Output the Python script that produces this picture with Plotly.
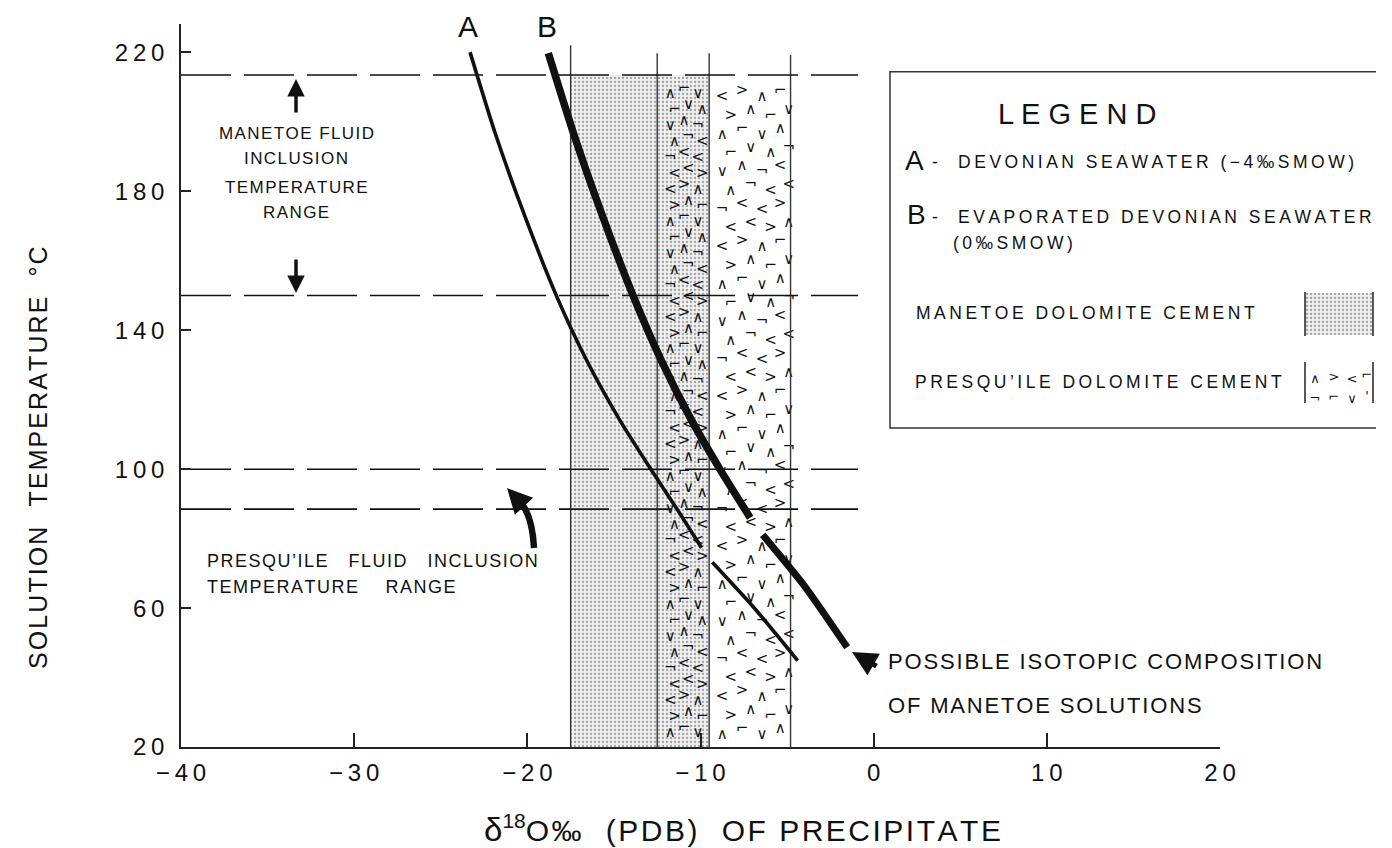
import numpy as np
import plotly.graph_objects as go

# ---- data -------------------------------------------------------------
# Curve A: Devonian seawater (-4 per mil SMOW); two drawn segments
a_upper_x = [-23.31, -21.86, -20.17, -18.30, -16.59, -14.67, -12.82, -11.33, -9.94]
a_upper_t = [220.1, 196.8, 173.2, 149.7, 131.5, 114.2, 99.6, 88.3, 77.4]
a_lower_x = [-9.32, -6.96, -4.39]
a_lower_t = [73.2, 60.4, 44.9]
# Curve B: evaporated Devonian seawater (0 per mil SMOW)
b_upper_x = [-18.79, -17.30, -15.68, -13.87, -12.28, -10.53, -8.83, -7.42, -7.13]
b_upper_t = [219.8, 196.2, 173.2, 149.7, 131.5, 114.2, 99.6, 88.3, 86.0]
b_lower_x = [-6.41, -3.97, -1.53]
b_lower_t = [81.1, 66.2, 48.7]

# cement isotopic ranges (d18O PDB) and top of the bands (deg C)
manetoe_cement = [-17.5, -9.5]
presquile_cement = [-12.5, -4.8]
band_bottom = 20
band_top = 213.5
band_edges = [-17.5, -12.5, -9.5, -4.8]
edge_tops = [222.1, 219.8, 219.8, 219.3]

# fluid inclusion temperature ranges (deg C)
manetoe_fi = [150.0, 213.5]
presquile_fi = [88.5, 100.0]
range_x = [-40, -0.9]

x_ticks = [-40, -30, -20, -10, 0, 10, 20]
y_ticks = [20, 60, 100, 140, 180, 220]
x_range = [-40, 20]
y_range = [20, 228.2]

# ---- page geometry ------------------------------------------------------
W, H = 1392, 848
WE = 1376                      # width actually available to the drawing
ML, MR, MT, MB = 181, 0, 24, 101
PW, PH = WE - ML - MR, H - MT - MB
X_DOMAIN_END = (1220 - ML) / PW

INK = "#111111"
FONT = "Liberation Sans"
HAIR = "\u200a"


def spaced(s, gap=HAIR):
    return gap.join(s)


def num_label(v):
    s = "\u2009".join(str(abs(v)))
    return ("\u2212\u2009" + s) if v < 0 else s


def px_x(p):
    return (p - ML) / PW


def px_y(p):
    return (H - MB - p) / PH


fig = go.Figure()

STIPPLE = dict(shape=".", size=4, solidity=0.26, fgcolor="#555555", bgcolor="#efefef")

# Manetoe dolomite cement: stippled band
mx0, mx1 = manetoe_cement
fig.add_trace(go.Scatter(
    x=[mx0, mx1, mx1, mx0, mx0],
    y=[band_bottom, band_bottom, band_top, band_top, band_bottom],
    mode="lines", fill="toself", line=dict(width=0),
    fillcolor="#efefef", fillpattern=STIPPLE,
    hoverinfo="skip", showlegend=False))

# Presqu'ile dolomite cement: caret texture
GLYPHS = ["\u2227", "<", "\u2228", ">", "\u00ac", "\u2310", "<", "\u2227"]


def caret_field(x_cols, step, shift, y0, y1):
    xs, ys, gs = [], [], []
    rows = np.arange(y0, y1, step)
    for i, yy in enumerate(rows):
        off = shift if i % 2 else 0.0
        for j, xx in enumerate(x_cols):
            xs.append(xx + off)
            ys.append(yy + (j % 2) * step * 0.3)
            gs.append(GLYPHS[(i * 3 + j * 5) % len(GLYPHS)])
    return xs, ys, gs


cx1, cy1, cg1 = caret_field([-11.75, -10.95, -10.15], 4.6, 0.25, 24.0, 211)
cx2, cy2, cg2 = caret_field([-8.75, -7.6, -6.45, -5.4], 5.4, 0.5, 23.5, 211)
fig.add_trace(go.Scatter(
    x=cx1 + cx2, y=cy1 + cy2, text=cg1 + cg2, mode="text",
    textfont=dict(family="DejaVu Sans", size=15, color="#111"),
    hoverinfo="skip", showlegend=False))

# band edge lines
ex, ey = [], []
for xe, te in zip(band_edges, edge_tops):
    ex += [xe, xe, None]
    ey += [band_bottom, te, None]
fig.add_trace(go.Scatter(x=ex, y=ey, mode="lines",
                         line=dict(color="#333", width=1.4),
                         hoverinfo="skip", showlegend=False))

# fluid inclusion temperature limits (dashed)
for t in manetoe_fi + presquile_fi:
    fig.add_trace(go.Scatter(
        x=range_x, y=[t, t], mode="lines",
        line=dict(color=INK, width=1.6, dash="50px,13px"),
        hoverinfo="skip", showlegend=False))

# calculated equilibrium curves
for xs, ts, w in [(a_upper_x, a_upper_t, 3.6), (a_lower_x, a_lower_t, 3.6),
                  (b_upper_x, b_upper_t, 7.5), (b_lower_x, b_lower_t, 7.0)]:
    fig.add_trace(go.Scatter(
        x=xs, y=ts, mode="lines",
        line=dict(color="#111", width=w, shape="spline", smoothing=0.6),
        hoverinfo="skip", showlegend=False))

# ---- pixel-space overlay for legend & labels -----------------------------
fig.add_trace(go.Scatter(
    x=[1305, 1373, 1373, 1305, 1305], y=[293, 293, 335, 335, 293],
    mode="lines", fill="toself", line=dict(width=0), fillcolor="#efefef",
    fillpattern=STIPPLE, xaxis="x2", yaxis="y2", hoverinfo="skip", showlegend=False))
fig.add_trace(go.Scatter(
    x=[1315, 1334, 1352, 1367, 1315, 1334, 1352, 1367],
    y=[380, 378, 380, 376, 399, 398, 400, 397],
    text=["\u2227", ">", "<", "\u2310", "\u00ac", "\u2310", "\u2228", "'"],
    mode="text", textfont=dict(family="DejaVu Sans", size=13, color="#111"),
    xaxis="x2", yaxis="y2", hoverinfo="skip", showlegend=False))

shapes = [
    # legend frame (open on the right)
    dict(type="path", xref="x2", yref="y2",
         path="M %d,71.7 L 890,71.7 L 890,428 L %d,428" % (WE + 20, WE + 20),
         line=dict(color="#333", width=1.5)),
    dict(type="line", xref="x2", yref="y2", x0=1305, x1=1305, y0=292, y1=336, line=dict(color="#222", width=1.5)),
    dict(type="line", xref="x2", yref="y2", x0=1373, x1=1373, y0=292, y1=336, line=dict(color="#222", width=1.5)),
    dict(type="line", xref="x2", yref="y2", x0=1305, x1=1305, y0=362, y1=403, line=dict(color="#222", width=1.5)),
    dict(type="line", xref="x2", yref="y2", x0=1373, x1=1373, y0=362, y1=403, line=dict(color="#222", width=1.5)),
    # curved shaft of Presqu'ile pointer
    dict(type="path", xref="x2", yref="y2",
         path="M 534,548 Q 532,512 518,500",
         line=dict(color="#111", width=6.5)),
]

anns = []


def txt(x, y, s, size, xanchor="left", yanchor="middle", angle=0):
    anns.append(dict(x=px_x(x), y=px_y(y), xref="paper", yref="paper", text=s,
                     showarrow=False, xanchor=xanchor, yanchor=yanchor, textangle=angle,
                     font=dict(family=FONT, size=size, color=INK)))


def arrow(x, y, ax, ay, width):
    anns.append(dict(x=x, y=y, xref="x2", yref="y2", ax=ax, ay=ay,
                     axref="x2", ayref="y2", text="", showarrow=True,
                     arrowhead=2, arrowsize=1.0, arrowwidth=width, arrowcolor="#111"))


# curve labels
txt(468, 27, "A", 30, "center")
txt(547, 27, "B", 30, "center")

# Manetoe fluid inclusion note
for s, yy in [("MANETOE FLUID", 133), ("INCLUSION", 158), ("TEMPERATURE", 188), ("RANGE", 213)]:
    txt(296, yy, spaced(s), 17, "center")
arrow(296, 79, 296, 114, 3.5)
arrow(296, 293, 296, 258, 3.5)

# Presqu'ile fluid inclusion note
txt(205, 561, spaced("PRESQU\u2019ILE   FLUID   INCLUSION"), 18)
txt(205, 587, spaced("TEMPERATURE    RANGE"), 18)
arrow(507, 488, 520, 502, 5)

# isotopic composition note
txt(886, 661, spaced("POSSIBLE ISOTOPIC COMPOSITION"), 22)
txt(886, 705, spaced("OF MANETOE SOLUTIONS"), 22)
arrow(852, 652, 878, 667, 5)

# legend texts
txt(1077, 114, "L E G E N D", 29, "center")
txt(903, 160, "A", 28)
txt(930, 162, spaced("-  DEVONIAN SEAWATER (\u22124\u2030SMOW)", "\u2009"), 17.5)
txt(905, 215, "B", 28)
txt(930, 217, spaced("-  EVAPORATED DEVONIAN SEAWATER", "\u2009"), 17.5)
txt(951, 243, spaced("(0\u2030SMOW)", "\u2009"), 17.5)
txt(914, 313, spaced("MANETOE DOLOMITE CEMENT", "\u2009"), 17.5)
txt(913, 382, spaced("PRESQU\u2019ILE DOLOMITE CEMENT", "\u2009"), 17.5)

# axis titles
txt(38, 458, spaced("SOLUTION  TEMPERATURE  \u00b0C"), 25, "center", "middle", -90)
txt(482, 828, "<span style='font-size:33px'>\u03b4</span><sup>18</sup>"
    + spaced("O\u2030  (PDB)  OF PRECIPITATE"), 30)

fig.update_layout(
    width=W, height=H, autosize=False,
    margin=dict(l=ML, r=MR, t=MT, b=MB, pad=0),
    paper_bgcolor="white", plot_bgcolor="rgba(0,0,0,0)",
    font=dict(family=FONT, color=INK),
    shapes=shapes, annotations=anns,
    xaxis=dict(domain=[0, X_DOMAIN_END], range=x_range, showgrid=False, zeroline=False,
               showline=True, linecolor="#222", linewidth=1.6,
               ticks="inside", ticklen=14, tickwidth=1.6, tickcolor="#222",
               tickvals=x_ticks, ticktext=[num_label(v) for v in x_ticks],
               tickfont=dict(family=FONT, size=24, color=INK), ticklabelstandoff=3),
    yaxis=dict(domain=[0, 1], range=y_range, showgrid=False, zeroline=False,
               showline=True, linecolor="#222", linewidth=1.6,
               ticks="inside", ticklen=10, tickwidth=1.6, tickcolor="#222",
               tickvals=y_ticks, ticktext=[num_label(v) for v in y_ticks],
               tickfont=dict(family=FONT, size=24, color=INK), ticklabelstandoff=10),
    xaxis2=dict(domain=[0, 1], range=[ML, WE], visible=False, anchor="y2", fixedrange=True),
    yaxis2=dict(domain=[0, 1], range=[H - MB, MT], visible=False, anchor="x2", fixedrange=True),
)

fig.write_html("out.html")
